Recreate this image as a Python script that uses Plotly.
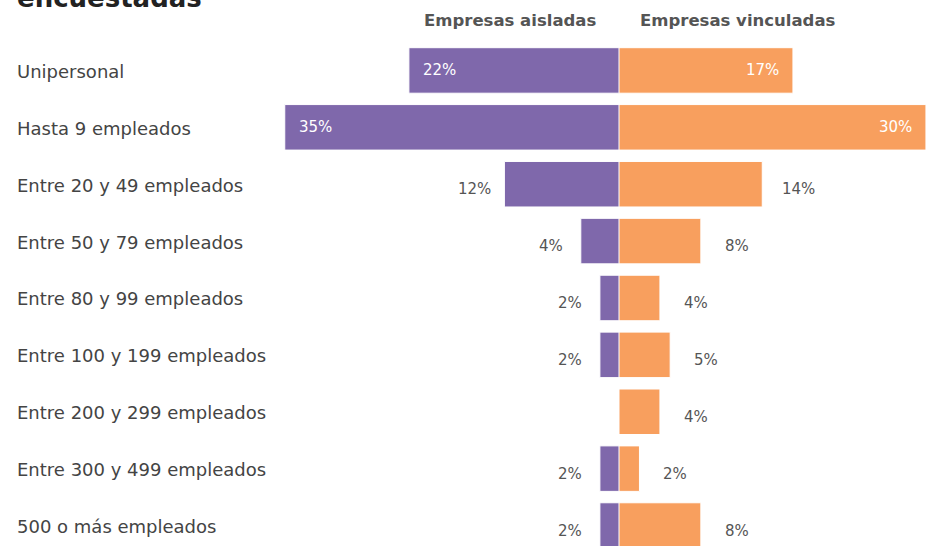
import plotly.graph_objects as go

# Company size categories (top to bottom)
categorias = [
    "Unipersonal",
    "Hasta 9 empleados",
    "Entre 20 y 49 empleados",
    "Entre 50 y 79 empleados",
    "Entre 80 y 99 empleados",
    "Entre 100 y 199 empleados",
    "Entre 200 y 299 empleados",
    "Entre 300 y 499 empleados",
    "500 o más empleados",
]
# Share of surveyed companies (%)
aisladas = [22, 35, 12, 4, 2, 2, 0, 2, 2]
vinculadas = [17, 30, 14, 8, 4, 5, 4, 2, 8]

titulo_serie_izq = "Empresas aisladas"
titulo_serie_der = "Empresas vinculadas"
titulo = "encuestadas"

MORADO = "#7f68ab"
NARANJA = "#f89f5e"
GRIS_TXT = "#555555"
FONT = "DejaVu Sans"

W, H = 928, 546
CENTRO = 619 / W
UMBRAL_DENTRO = 15

fig = go.Figure()

fig.add_trace(go.Bar(
    y=categorias, x=aisladas, orientation="h",
    marker=dict(color=MORADO, line=dict(color="white", width=1)),
    xaxis="x", yaxis="y", hoverinfo="x+y", showlegend=False,
))
fig.add_trace(go.Bar(
    y=categorias, x=vinculadas, orientation="h",
    marker=dict(color=NARANJA, line=dict(color="white", width=1)),
    xaxis="x2", yaxis="y", hoverinfo="x+y", showlegend=False,
))

anotaciones = []

# Category labels, left aligned
for c in categorias:
    anotaciones.append(dict(
        x=15 / W, xref="paper", y=c, yref="y", text=c, showarrow=False,
        xanchor="left", yanchor="middle", yshift=-1,
        font=dict(family=FONT, size=18, color="#444444"),
    ))

# Value labels: inside the bar for wide bars, outside otherwise
for c, v in zip(categorias, aisladas):
    if v <= 0:
        continue
    if v >= UMBRAL_DENTRO:
        anotaciones.append(dict(
            x=v, xref="x", y=c, yref="y", text=f"{v}%", showarrow=False,
            xanchor="left", xshift=12,
            font=dict(family=FONT, size=15, color="white"),
        ))
    else:
        anotaciones.append(dict(
            x=v, xref="x", y=c, yref="y", text=f"{v}%", showarrow=False,
            xanchor="center", xshift=-30, yshift=-5,
            font=dict(family=FONT, size=15, color=GRIS_TXT),
        ))

for c, v in zip(categorias, vinculadas):
    if v <= 0:
        continue
    if v >= UMBRAL_DENTRO:
        anotaciones.append(dict(
            x=v, xref="x2", y=c, yref="y", text=f"{v}%", showarrow=False,
            xanchor="right", xshift=-12,
            font=dict(family=FONT, size=15, color="white"),
        ))
    else:
        anotaciones.append(dict(
            x=v, xref="x2", y=c, yref="y", text=f"{v}%", showarrow=False,
            xanchor="center", xshift=36, yshift=-5,
            font=dict(family=FONT, size=15, color=GRIS_TXT),
        ))

# Column headers
anotaciones.append(dict(
    x=510 / W, xref="paper", y=1, yref="paper", yshift=22, text=f"<b>{titulo_serie_izq}</b>",
    showarrow=False, xanchor="center", yanchor="middle",
    font=dict(family=FONT, size=16.5, color=GRIS_TXT),
))
anotaciones.append(dict(
    x=738 / W, xref="paper", y=1, yref="paper", yshift=22, text=f"<b>{titulo_serie_der}</b>",
    showarrow=False, xanchor="center", yanchor="middle",
    font=dict(family=FONT, size=16.5, color=GRIS_TXT),
))

# Title (second line, partly above the page edge)
anotaciones.append(dict(
    x=15 / W, xref="paper", y=1, yref="paper", yshift=27, text=f"<b>{titulo}</b>",
    showarrow=False, xanchor="left", yanchor="bottom",
    font=dict(family=FONT, size=26, color="#222222"),
))

fig.update_layout(
    width=W, height=H,
    margin=dict(l=0, r=0, t=42, b=0),
    paper_bgcolor="white", plot_bgcolor="white",
    bargap=0.2,
    xaxis=dict(domain=[0, CENTRO], range=[619 / 9.55, 0], visible=False, fixedrange=True),
    xaxis2=dict(domain=[CENTRO, 1], range=[0, 30.2], visible=False, fixedrange=True),
    yaxis=dict(categoryorder="array", categoryarray=categorias,
               range=[8.36, -0.5], visible=False, fixedrange=True),
    annotations=anotaciones,
)

fig.write_html("out.html")
